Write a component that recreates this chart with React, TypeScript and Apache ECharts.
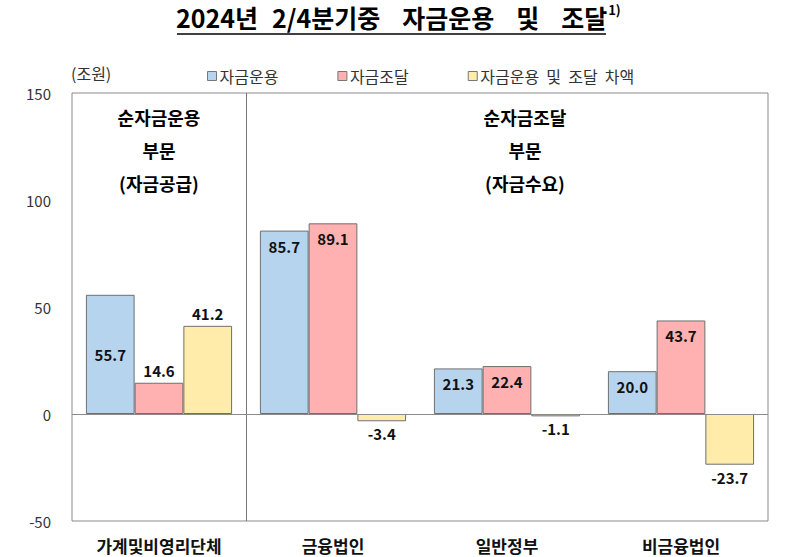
import React, { useEffect, useRef } from "react";
import * as echarts from "echarts";

const categories = ["가계및비영리단체", "금융법인", "일반정부", "비금융법인"];
const seriesNames = ["자금운용", "자금조달", "자금운용 및 조달 차액"];
const useOfFunds = [55.7, 85.7, 21.3, 20.0];
const sourceOfFunds = [14.6, 89.1, 22.4, 43.7];
const netFunds = [41.2, -3.4, -1.1, -23.7];
const yTicks = { min: -50, max: 150, interval: 50 };

const FONT = "'Noto Sans CJK KR', 'Noto Sans', sans-serif";

export default function App() {
  const ref = useRef<HTMLDivElement>(null);
  useEffect(() => {
    if (!ref.current) return;
    const chart = echarts.init(ref.current, undefined, { renderer: "svg" });
    const colors = ["#B7D4EE", "#FFB0B0", "#FFEBAA"];
    const positions = [
      ["inside", "insideTop", "insideTop", "insideTop"],
      ["top", "insideTop", "insideTop", "insideTop"],
      ["top", "bottom", "bottom", "bottom"],
    ];
    const all = [useOfFunds, sourceOfFunds, netFunds];
    const series: any[] = all.map((vals, si) => ({
      name: seriesNames[si],
      type: "bar",
      barGap: "0%",
      barCategoryGap: "16%",
      itemStyle: { color: colors[si], borderColor: "#6f6f6f", borderWidth: 1 },
      data: vals.map((v, i) => ({
        value: v,
        label: {
          show: true,
          position: positions[si][i],
          distance: positions[si][i] === "insideTop" ? 8 : 5,
          formatter: (p: any) => p.value.toFixed(1),
          fontFamily: FONT,
          fontSize: 15,
          fontWeight: "bold",
          color: "#111",
        },
      })),
    }));
    series[0].markLine = {
      silent: true,
      symbol: "none",
      label: { show: false },
      lineStyle: { color: "#8a8a8a", type: "solid", width: 1 },
      data: [{ yAxis: 0 }],
    };
    const titleStyle = { fontFamily: FONT, fontSize: 25, fontWeight: "bold", fill: "#000" };
    chart.setOption({
      animation: false,
      textStyle: { fontFamily: FONT },
      grid: {
        left: 72,
        right: 32,
        top: 93,
        bottom: 36,
        show: true,
        borderColor: "#8a8a8a",
        borderWidth: 1,
      },
      legend: {
        data: seriesNames,
        left: 202,
        top: 63,
        icon: "rect",
        itemWidth: 9,
        itemHeight: 9,
        itemGap: 59,
        formatter: (name: string) => name.replace(/ /g, "  "),
        itemStyle: { borderColor: "#777", borderWidth: 1 },
        textStyle: { fontFamily: FONT, fontSize: 16, color: "#333", padding: [0, 0, 0, -2] },
      },
      xAxis: {
        type: "category",
        data: categories,
        axisLine: { show: false },
        axisTick: { show: false },
        splitLine: { show: false },
        axisLabel: {
          margin: 16,
          fontFamily: FONT,
          fontSize: 17,
          fontWeight: "bold",
          color: "#111",
        },
      },
      yAxis: {
        type: "value",
        min: yTicks.min,
        max: yTicks.max,
        interval: yTicks.interval,
        axisLine: { show: false },
        axisTick: { show: false },
        splitLine: { show: false },
        axisLabel: { margin: 21, fontFamily: FONT, fontSize: 15, color: "#333" },
      },
      graphic: [
        {
          id: "title",
          type: "text",
          left: 176,
          top: 3,
          style: {
            text: "{t|2024년}{g1| }{t|2/4분기중}{g| }{t|자금운용}{g| }{t|및}{g| }{t|조달}{s|1)}",
            rich: {
              t: titleStyle,
              g1: { ...titleStyle, width: 14 },
              g: { ...titleStyle, width: 22 },
              s: { fontFamily: FONT, fontSize: 13, fontWeight: "bold", fill: "#000", padding: [0, 0, 14, 1] },
            },
          },
        },
        {
          id: "underline",
          type: "line",
          shape: { x1: 177, y1: 34, x2: 606, y2: 34 },
          style: { stroke: "#000", lineWidth: 1.5 },
        },
        {
          id: "unit",
          type: "text",
          left: 71,
          top: 65,
          style: { text: "(조원)", fontFamily: FONT, fontSize: 16, fill: "#333" },
        },
        {
          id: "sec1",
          type: "text",
          x: 159,
          y: 100,
          style: {
            text: "순자금운용\n부문\n(자금공급)",
            fontFamily: FONT,
            fontSize: 18,
            fontWeight: "bold",
            lineHeight: 33,
            align: "center",
            fill: "#000",
          },
        },
        {
          id: "sec2",
          type: "text",
          x: 525,
          y: 100,
          style: {
            text: "순자금조달\n부문\n(자금수요)",
            fontFamily: FONT,
            fontSize: 18,
            fontWeight: "bold",
            lineHeight: 33,
            align: "center",
            fill: "#000",
          },
        },
      ],
      series,
    });
    // divider between first and second category, from the library's own scales
    const x0 = chart.convertToPixel({ xAxisIndex: 0 }, 0) as number;
    const x1 = chart.convertToPixel({ xAxisIndex: 0 }, 1) as number;
    const yTop = chart.convertToPixel({ yAxisIndex: 0 }, yTicks.max) as number;
    const yBot = chart.convertToPixel({ yAxisIndex: 0 }, yTicks.min) as number;
    const xd = Math.round((x0 + x1) / 2) + 0.5;
    chart.setOption({
      graphic: [
        {
          id: "divider",
          type: "line",
          shape: { x1: xd, y1: yTop, x2: xd, y2: yBot },
          style: { stroke: "#777", lineWidth: 1 },
        },
      ],
    });
    return () => chart.dispose();
  }, []);
  return <div ref={ref} style={{ width: 800, height: 557, position: "absolute", left: 0, top: 0, background: "#fff" }} />;
}
